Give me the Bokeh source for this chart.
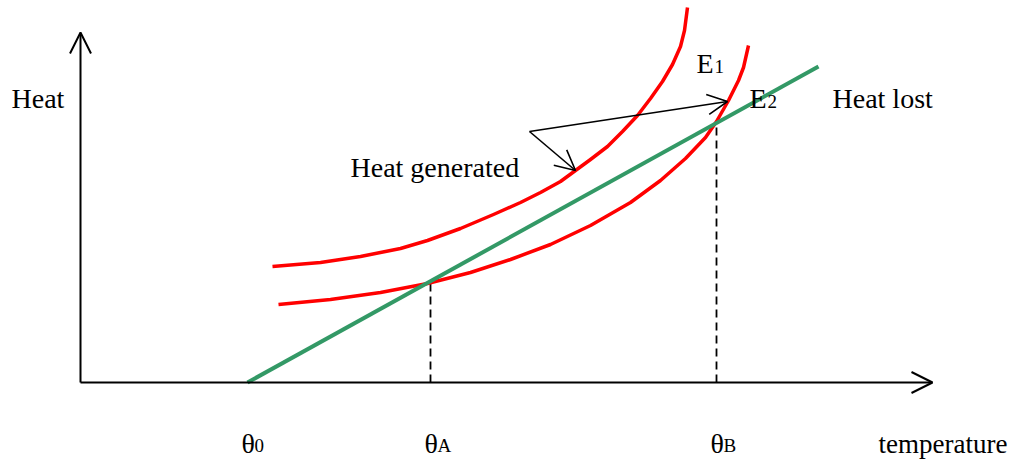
import numpy as np
from bokeh.plotting import figure
from bokeh.models import Range1d, Arrow, OpenHead
from bokeh.core.properties import value
from bokeh.embed import file_html
from bokeh.resources import INLINE

# ---- data (temperature, heat) in chart units ----
# heat generated, curve E1 (upper)
gen1_T = [192, 240, 280, 320, 347, 380, 413, 440, 460, 480, 495, 510, 527, 542, 557, 570, 582, 592, 600, 604, 607]
gen1_H = [116, 120, 126, 134, 142, 154, 168, 180, 190, 201, 212, 223, 236, 251, 267, 284, 301, 318, 336, 352, 375]
# heat generated, curve E2 (lower)
gen2_T = [198, 250, 300, 347, 390, 430, 470, 510, 550, 580, 605, 625, 636, 648, 658, 663, 668]
gen2_H = [78, 83, 90, 99, 110, 123, 138, 157, 180, 202, 224, 245, 261, 282, 302, 315, 337]
# heat lost (straight line)
lost_T = [167, 738]
lost_H = [0, 316]
# temperature marks
theta_subs = ["0", "A", "B"]
theta_vals = [167, 350, 636]
# axis extents
T_MAX = 852
H_MAX = 350

FONT = value("Liberation Serif")
RED = "#FF0000"
GREEN = "#339966"

p = figure(width=1014, height=461, x_range=Range1d(-80, 934), y_range=Range1d(-79, 382),
           output_backend="svg", toolbar_location=None, min_border=0,
           x_axis_location=None, y_axis_location=None)
p.grid.visible = False
p.outline_line_color = None
p.background_fill_color = "white"
p.border_fill_color = "white"

# axes with open arrow heads
p.add_layout(Arrow(end=OpenHead(size=21, line_width=2, line_color="black"),
                   x_start=0, y_start=0, x_end=T_MAX, y_end=0,
                   line_width=2, line_color="black"))
p.add_layout(Arrow(end=OpenHead(size=21, line_width=2, line_color="black"),
                   x_start=0, y_start=0, x_end=0, y_end=H_MAX,
                   line_width=2, line_color="black"))

# dashed drop lines at theta_A, theta_B (to heat-lost line)
drop_T = theta_vals[1:]
drop_H = [float(np.interp(t, lost_T, lost_H)) for t in drop_T]
p.segment(x0=drop_T, y0=[0, 0], x1=drop_T, y1=drop_H,
          line_color="black", line_width=1.8, line_dash="8 5")

# curves
p.line(gen1_T, gen1_H, line_color=RED, line_width=3.5, line_join="round")
p.line(gen2_T, gen2_H, line_color=RED, line_width=3.5, line_join="round")
p.line(lost_T, lost_H, line_color=GREEN, line_width=4)

# pointer arrows from "Heat generated"
vx, vy = 449, 251
for ex, ey in [(647, 281), (495, 212)]:
    p.add_layout(Arrow(end=OpenHead(size=20, line_width=1.6, line_color="black"),
                       x_start=vx, y_start=vy, x_end=ex, y_end=ey,
                       line_width=1.6, line_color="black"))

BASE_SHIFT = 10

def txt(x, y, s, size="28px", align="left"):
    p.text(x=[x], y=[y + BASE_SHIFT], text=[s], text_font=FONT, text_font_size=value(size),
           text_color="black", text_align=align, text_baseline="alphabetic")

txt(-69, 274, "Heat")
txt(752, 274, "Heat lost")
txt(270, 205, "Heat generated")
txt(616, 309, "E")
txt(634, 306, "1", size="19px")
txt(669, 274, "E")
txt(687, 271, "2", size="19px")

for sub, t in zip(theta_subs, theta_vals):
    txt(t - 6, -71, "θ")
    txt(t + 7, -73, sub, size="19px")
txt(798, -71, "temperature", size="27px")

open("out.html", "w").write(file_html(p, INLINE))
